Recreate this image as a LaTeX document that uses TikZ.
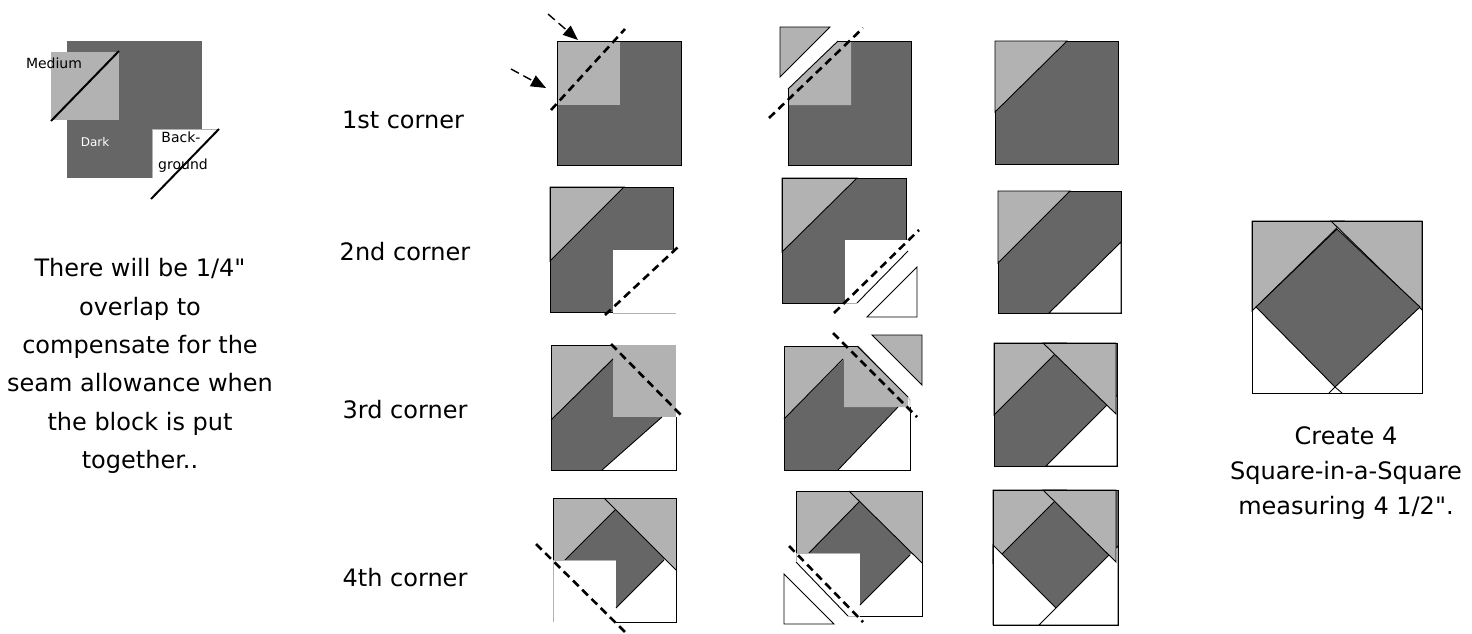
\documentclass[tikz,border=0pt]{standalone}
\usepackage{fontspec}
\setmainfont{DejaVu Sans}
\newfontfamily\qfont{DejaVu Sans}
\usetikzlibrary{arrows.meta}
\definecolor{dk}{gray}{0.40}
\definecolor{md}{gray}{0.70}
\newcommand{\inch}{{\qfont"}}
\begin{document}
\begin{tikzpicture}[x=1pt,y=-1pt,
  edge/.style={draw=black,line width=0.9pt},
  soft/.style={draw=gray!60,line width=0.8pt},
  slash/.style={draw=black,line width=2pt},
  cutline/.style={line width=2.6pt,dash pattern=on 8pt off 5pt},
  pointer/.style={line width=1.4pt,dash pattern=on 9pt off 5pt,-{Triangle[length=15pt,width=12pt]}},
  big/.style={font=\fontsize{24}{38.4}\selectfont,align=center,inner sep=0pt},
  small/.style={font=\fontsize{14}{16}\selectfont,inner sep=0pt},
  tiny/.style={font=\fontsize{12}{14}\selectfont,inner sep=0pt,text=white}]
\useasboundingbox (0,0) rectangle (1472,633);

% ---------- legend ----------
\fill[dk] (67,41) rectangle (202,178);
\fill[md] (51,52) rectangle (119,120);
\node[small] (lgmed) at (54,63) {Medium};
\draw[slash] (51,121) -- (119,51);
\fill[white] (152,129) rectangle (218,178);
\draw[soft] (152,178) -- (152,129) -- (218,129);
\node[tiny] (lgdark) at (95,142) {Dark};
\node[small] (lgback) at (181,137) {Back-};
\node[small] (lgground) at (183,166) {ground};
\draw[slash] (151,199) -- (219,129);

% ---------- left note ----------
\node[big] (note) at (140,366) {There will be 1/4\inch\\overlap to\\compensate for the\\seam allowance when\\the block is put\\together..};

% ---------- row labels ----------
\node[big] (c1) at (403,120) {1st corner};
\node[big] (c2) at (405,252) {2nd corner};
\node[big] (c3) at (405,410) {3rd corner};
\node[big] (c4) at (405,578) {4th corner};

% ---------- row 1 ----------
\filldraw[fill=dk,edge] (557,41) rectangle (681,165);
\fill[md] (557,41) rectangle (620,105);
\draw[edge] (557,105) -- (557,41) -- (620,41);
\draw[cutline] (551,110) -- (625,29);
\coordinate (a1s) at (548,14); \coordinate (a1e) at (578,40);
\coordinate (a2s) at (511,69); \coordinate (a2e) at (546,88);
\draw[pointer] (a1s) -- (a1e);
\draw[pointer] (a2s) -- (a2e);

\fill[dk] (838,41) -- (911,41) -- (911,165) -- (788,165) -- (788,89) -- cycle;
\fill[md] (788,89) -- (838,41) -- (851,41) -- (851,105) -- (788,105) -- cycle;
\draw[edge] (788,89) -- (838,41);
\draw[edge] (788,89) -- (788,165) -- (911,165) -- (911,41) -- (838,41);
\draw[cutline] (769,118) -- (863,28);
\filldraw[fill=md,edge] (780,27) -- (830,27) -- (780,77) -- cycle;

\filldraw[fill=dk,edge] (995,41) rectangle (1118,164);
\filldraw[fill=md,edge] (995,41) -- (1067,41) -- (995,112) -- cycle;

% ---------- row 2 ----------
\fill[dk] (550,187) rectangle (673,312);
\filldraw[fill=md,edge] (550,187) -- (624,187) -- (550,261) -- cycle;
\fill[white] (613,250) rectangle (676,313);
\draw[soft] (613,313) -- (676,313);
\draw[edge] (613,312) -- (550,312) -- (550,187) -- (673,187) -- (673,250);
\draw[cutline] (605,315) -- (678,247);

\fill[dk] (782,178) rectangle (906,303);
\filldraw[fill=md,edge] (782,178) -- (857,178) -- (782,252) -- cycle;
\fill[white] (845,240) rectangle (908,305);
\draw[edge] (908,251) -- (857,303);
\draw[soft] (845,303) -- (857,303);
\draw[edge] (845,303) -- (782,303) -- (782,178) -- (906,178) -- (906,240);
\draw[cutline] (834,313) -- (919,230);
\filldraw[fill=white,edge] (867,317) -- (917,317) -- (917,267) -- cycle;

\filldraw[fill=dk,edge] (998,191) rectangle (1121,313);
\filldraw[fill=md,edge] (998,191) -- (1070,191) -- (998,263) -- cycle;
\filldraw[fill=white,edge] (1121,242) -- (1121,313) -- (1049,313) -- cycle;

% ---------- row 3 ----------
\fill[dk] (551,345) rectangle (676,470);
\fill[md] (551,345) -- (626,345) -- (551,420) -- cycle;
\fill[white] (676,405) -- (676,470) -- (602,470) -- cycle;
\fill[md] (613,345) rectangle (676,417);
\draw[edge] (551,420) -- (613,359);
\draw[edge] (602,470) -- (662,417);
\draw[edge] (613,345) -- (551,345) -- (551,470) -- (676,470) -- (676,417);
\draw[cutline] (611,344) -- (681,415);

\fill[dk] (784,346) rectangle (910,470);
\fill[md] (784,346) -- (857,346) -- (784,419) -- cycle;
\fill[white] (910,394) -- (910,470) -- (838,470) -- cycle;
\fill[md] (844,346) -- (857,346) -- (908,397) -- (908,407) -- (844,407) -- cycle;
\fill[white] (857,344) -- (912,344) -- (912,397) -- (908,397) -- cycle;
\draw[edge] (784,419) -- (843,359);
\draw[edge] (838,470) -- (898,407);
\draw[edge] (857,346) -- (908,397);
\draw[edge] (857,346) -- (784,346) -- (784,470) -- (910,470) -- (910,407);
\draw[soft] (908,397) -- (910,400) -- (910,407);
\draw[cutline] (833,333) -- (917,417);
\filldraw[fill=md,edge] (872,335) -- (922,335) -- (922,385) -- cycle;

\fill[dk] (994,343) rectangle (1117,466);
\filldraw[fill=md,edge] (994,343) -- (1066,343) -- (994,415) -- cycle;
\filldraw[fill=white,edge] (1117,395) -- (1117,466) -- (1046,466) -- cycle;
\filldraw[fill=md,edge] (1043,343) -- (1116,343) -- (1116,414) -- cycle;
\draw[edge] (994,343) rectangle (1117,466);

% ---------- row 4 ----------
\fill[dk] (553,498) rectangle (676,622);
\fill[md] (553,498) -- (627,498) -- (553,572) -- cycle;
\fill[white] (676,548) -- (676,622) -- (602,622) -- cycle;
\fill[white] (553,560) rectangle (616,622);
\fill[md] (604,498) -- (676,498) -- (676,570) -- cycle;
\draw[edge] (604,498) -- (676,570);
\draw[edge] (565,560) -- (615.5,509.5);
\draw[edge] (616,608) -- (664,560);
\draw[soft] (553,622) -- (553,560) -- (616,560);
\draw[edge] (553,560) -- (553,498) -- (676,498) -- (676,622) -- (616,622);
\draw[cutline] (536,544) -- (625,632);

\fill[dk] (796,491) rectangle (922,616);
\fill[md] (796,491) -- (870,491) -- (796,565) -- cycle;
\fill[white] (922,543) -- (922,616) -- (849,616) -- cycle;
\fill[white] (794,553) -- (860,553) -- (860,618) -- (794,618) -- cycle;
\fill[md] (849,491) -- (922,491) -- (922,563) -- cycle;
\draw[edge] (849,491) -- (922,563);
\draw[edge] (809,553) -- (859.5,501.5);
\draw[edge] (860,605) -- (910,555);
\draw[edge] (796,562) -- (848,616);
\draw[soft] (796,562) -- (796,553) -- (860,553);
\draw[soft] (848,616) -- (860,616);
\draw[edge] (796,553) -- (796,491) -- (922,491) -- (922,616) -- (860,616);
\draw[cutline] (789,546) -- (863,622);
\filldraw[fill=white,edge] (784,574) -- (784,624) -- (834,624) -- cycle;

\fill[dk] (993,490) rectangle (1118,625);
\filldraw[fill=md,edge] (993,490) -- (1066,490) -- (993,563) -- cycle;
\filldraw[fill=white,edge] (993,545) -- (993,625) -- (1073,625) -- cycle;
\filldraw[fill=white,edge] (1118,546) -- (1118,625) -- (1039,625) -- cycle;
\filldraw[fill=md,edge] (1043,490) -- (1116,490) -- (1116,562) -- cycle;
\draw[edge] (993,490) rectangle (1118,625);

% ---------- finished block ----------
\fill[white] (1252,221) rectangle (1422,393);
\filldraw[fill=md,edge] (1252,221) -- (1344,221) -- (1252,311) -- cycle;
\filldraw[fill=md,edge] (1331,221) -- (1422,221) -- (1422,310) -- cycle;
\filldraw[fill=dk,edge] (1337,229) -- (1420,307) -- (1335,387) -- (1256,307) -- cycle;
\draw[edge] (1335,387) -- (1329,393);
\draw[edge] (1335,387) -- (1342,393);
\draw[edge] (1252,221) rectangle (1422,393);

\node[big,font=\fontsize{24}{35}\selectfont] (create) at (1346,473) {Create 4\\Square-in-a-Square\\measuring 4 1/2\inch.};
\end{tikzpicture}
\end{document}
